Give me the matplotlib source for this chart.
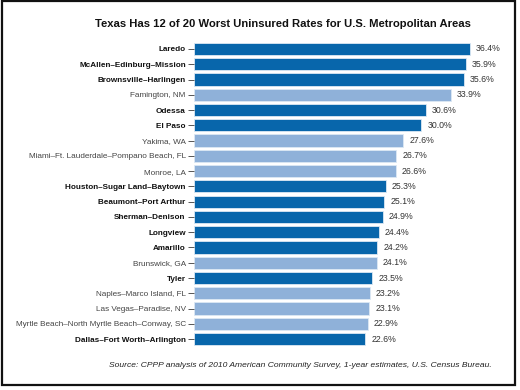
import matplotlib
matplotlib.use("Agg")
import matplotlib.pyplot as plt
from matplotlib.patches import Rectangle

# Data
areas = [
    "Laredo", "McAllen\u2013Edinburg\u2013Mission", "Brownsville\u2013Harlingen",
    "Famington, NM", "Odessa", "El Paso", "Yakima, WA",
    "Miami\u2013Ft. Lauderdale\u2013Pompano Beach, FL", "Monroe, LA",
    "Houston\u2013Sugar Land\u2013Baytown", "Beaumont\u2013Port Arthur",
    "Sherman\u2013Denison", "Longview", "Amarillo", "Brunswick, GA", "Tyler",
    "Naples\u2013Marco Island, FL", "Las Vegas\u2013Paradise, NV",
    "Myrtle Beach\u2013North Myrtle Beach\u2013Conway, SC",
    "Dallas\u2013Fort Worth\u2013Arlington",
]
rates = [36.4, 35.9, 35.6, 33.9, 30.6, 30.0, 27.6, 26.7, 26.6, 25.3,
         25.1, 24.9, 24.4, 24.2, 24.1, 23.5, 23.2, 23.1, 22.9, 22.6]
is_texas = [True, True, True, False, True, True, False, False, False, True,
            True, True, True, True, False, True, False, False, False, True]

DARK = "#0866ab"
LIGHT = "#8fb1d9"

plt.rcParams['font.family'] = ['Liberation Sans', 'DejaVu Sans']

fig = plt.figure(figsize=(5.2, 3.9), dpi=100)
ax = fig.add_axes([0.373, 0.111, 0.583, 0.783])

ypos = list(range(len(areas)))
colors = [DARK if t else LIGHT for t in is_texas]
ax.barh(ypos, rates, height=0.8, color=colors, edgecolor="#dce8f4", linewidth=0.6)

for y, v in zip(ypos, rates):
    ax.text(v + 0.8, y, f"{v:.1f}%", va="center", ha="left", fontsize=6.3,
            color="#333333")

ax.set_xlim(0, 40)
ax.set_ylim(len(areas) - 0.5, -0.5)
ax.set_yticks(ypos)
ax.set_yticklabels(areas)
for lbl, t in zip(ax.get_yticklabels(), is_texas):
    lbl.set_fontsize(5.9)
    if t:
        lbl.set_fontweight("bold")
        lbl.set_color("#111111")
    else:
        lbl.set_color("#444444")
ax.tick_params(axis="y", length=4, width=0.7, color="#555555", pad=2)
ax.set_xticks([])
for s in ax.spines.values():
    s.set_visible(False)

fig.text(0.545, 0.938, "Texas Has 12 of 20 Worst Uninsured Rates for U.S. Metropolitan Areas",
         ha="center", va="center", fontsize=8.1, fontweight="bold", color="#111111")
fig.text(0.577, 0.062,
         "Source: CPPP analysis of 2010 American Community Survey, 1-year estimates, U.S. Census Bureau.",
         ha="center", va="center", fontsize=6.1, style="italic", color="#222222")

# frame around the whole graphic
fig.patches.append(Rectangle((0.003, 0.0128), 0.987, 0.984, transform=fig.transFigure,
                             fill=False, edgecolor="#111111", linewidth=1.6))

fig.savefig("out.png", dpi=100, facecolor="white")
